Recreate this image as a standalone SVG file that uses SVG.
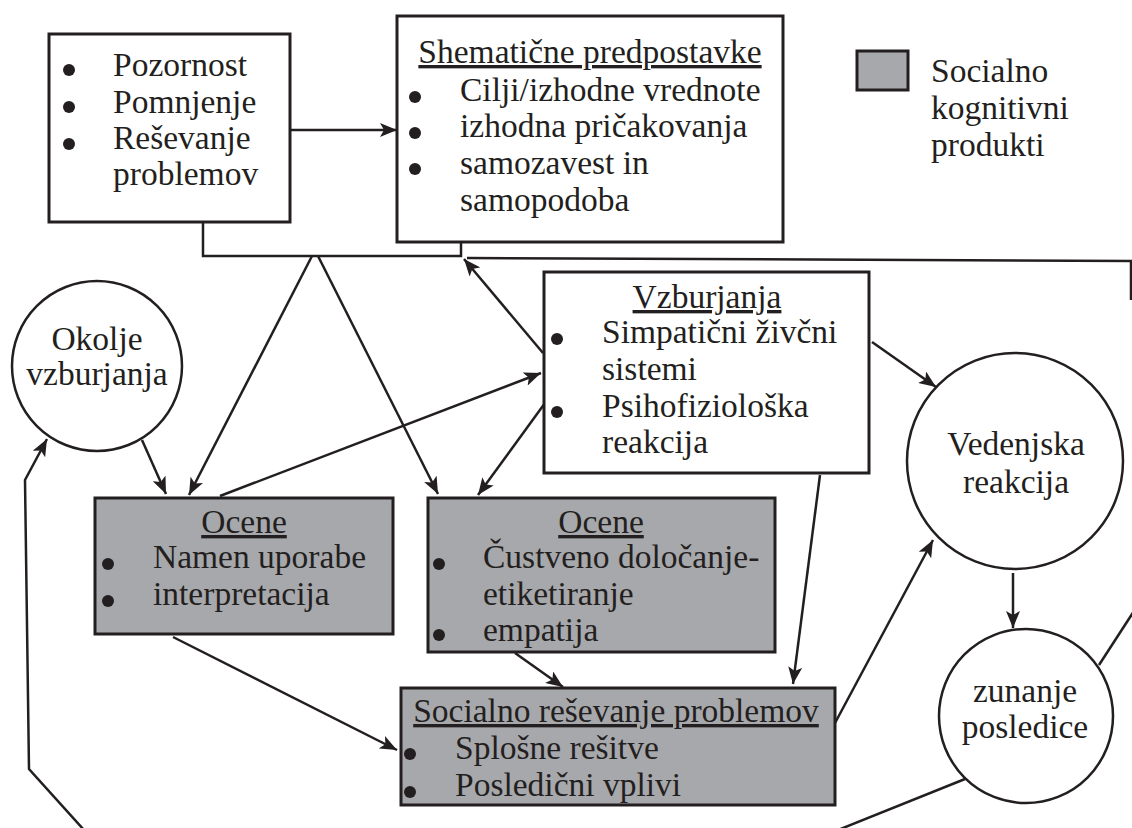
<svg xmlns="http://www.w3.org/2000/svg" width="1132" height="828" viewBox="0 0 1132 828">
<style>
.box{fill:#ffffff;stroke:#231f20;stroke-width:3}
.gbox{fill:#a7a8ab;stroke:#231f20;stroke-width:3}
.circ{fill:#ffffff;stroke:#231f20;stroke-width:2.5}
.t{font-family:"Liberation Serif","Times New Roman",serif;font-size:33.5px;fill:#231f20}
.c{text-anchor:middle}
.u{text-decoration:underline}
.b{fill:#231f20}
.con{fill:none;stroke:#231f20;stroke-width:2.5}
</style>
<defs>
<marker id="ah" markerUnits="userSpaceOnUse" markerWidth="18" markerHeight="14" refX="17" refY="7" orient="auto">
<path d="M0,0 L17,7 L0,14 L4,7 z" fill="#231f20"/>
</marker>
</defs>

<g id="connectors">
<line class="con" x1="290" y1="130" x2="397" y2="130" marker-end="url(#ah)"/>
<polyline class="con" points="203,222 203,256 461,256 461,242"/>
<line class="con" x1="312" y1="256" x2="189" y2="495" marker-end="url(#ah)"/>
<line class="con" x1="318" y1="256" x2="438" y2="494" marker-end="url(#ah)"/>
<line class="con" x1="543" y1="353" x2="464" y2="259" marker-end="url(#ah)"/>
<line class="con" x1="220" y1="496" x2="541" y2="373" marker-end="url(#ah)"/>
<line class="con" x1="545" y1="403" x2="478" y2="495" marker-end="url(#ah)"/>
<line class="con" x1="142" y1="440" x2="166" y2="494" marker-end="url(#ah)"/>
<line class="con" x1="872" y1="342" x2="936" y2="387" marker-end="url(#ah)"/>
<line class="con" x1="820" y1="475" x2="793" y2="684" marker-end="url(#ah)"/>
<line class="con" x1="173" y1="637" x2="397" y2="750" marker-end="url(#ah)"/>
<line class="con" x1="515" y1="653" x2="563" y2="687" marker-end="url(#ah)"/>
<line class="con" x1="835" y1="723" x2="933" y2="540" marker-end="url(#ah)"/>
<line class="con" x1="1013" y1="573" x2="1013" y2="628" marker-end="url(#ah)"/>
<line class="con" x1="1099" y1="665" x2="1134" y2="611"/>
<line class="con" x1="965" y1="779" x2="838" y2="830"/>
<polyline class="con" points="84,830 29,769 25,480 47,439" marker-end="url(#ah)"/>
<polyline class="con" points="467,258 1131,261 1131,300"/>
</g>

<g id="node-kognitivni">
<rect class="box" x="49" y="34" width="241" height="188"/>
<circle class="b" cx="69" cy="70" r="6"/>
<circle class="b" cx="69" cy="107" r="6"/>
<circle class="b" cx="69" cy="144" r="6"/>
<text class="t" x="113" y="76">Pozornost</text>
<text class="t" x="113" y="113">Pomnjenje</text>
<text class="t" x="113" y="149">Reševanje</text>
<text class="t" x="113" y="185">problemov</text>
</g>

<g id="node-shematicne">
<rect class="box" x="397" y="16" width="386" height="226"/>
<text class="t c u" x="590" y="63">Shematične predpostavke</text>
<circle class="b" cx="415" cy="97" r="6"/>
<circle class="b" cx="415" cy="133" r="6"/>
<circle class="b" cx="415" cy="169" r="6"/>
<text class="t" x="460" y="101">Cilji/izhodne vrednote</text>
<text class="t" x="460" y="137">izhodna pričakovanja</text>
<text class="t" x="460" y="174">samozavest in</text>
<text class="t" x="460" y="211">samopodoba</text>
</g>

<g id="legend">
<rect class="gbox" x="857" y="51" width="51" height="39" stroke-width="2"/>
<text class="t" x="931" y="82">Socialno</text>
<text class="t" x="931" y="119">kognitivni</text>
<text class="t" x="931" y="156">produkti</text>
</g>

<g id="node-vzburjanja">
<rect class="box" x="544" y="272" width="325" height="201"/>
<text class="t c u" x="707" y="308">Vzburjanja</text>
<circle class="b" cx="557" cy="339" r="6"/>
<circle class="b" cx="557" cy="412" r="6"/>
<text class="t" x="602" y="343">Simpatični živčni</text>
<text class="t" x="602" y="380">sistemi</text>
<text class="t" x="602" y="417">Psihofiziološka</text>
<text class="t" x="602" y="453">reakcija</text>
</g>

<g id="node-okolje">
<circle class="circ" cx="97" cy="366" r="85"/>
<text class="t c" x="97" y="350">Okolje</text>
<text class="t c" x="97" y="385">vzburjanja</text>
</g>

<g id="node-ocene1">
<rect class="gbox" x="95" y="498" width="298" height="136"/>
<text class="t c u" x="244" y="533">Ocene</text>
<circle class="b" cx="108" cy="564" r="6"/>
<circle class="b" cx="108" cy="601" r="6"/>
<text class="t" x="153" y="568">Namen uporabe</text>
<text class="t" x="153" y="605">interpretacija</text>
</g>

<g id="node-ocene2">
<rect class="gbox" x="428" y="498" width="347" height="154"/>
<text class="t c u" x="601" y="533">Ocene</text>
<circle class="b" cx="439" cy="564" r="6"/>
<circle class="b" cx="439" cy="635" r="6"/>
<text class="t" x="483" y="568">Čustveno določanje-</text>
<text class="t" x="483" y="605">etiketiranje</text>
<text class="t" x="483" y="641">empatija</text>
</g>

<g id="node-socialno">
<rect class="gbox" x="401" y="688" width="434" height="117"/>
<text class="t c u" x="616" y="722">Socialno reševanje problemov</text>
<circle class="b" cx="410" cy="754" r="6"/>
<circle class="b" cx="410" cy="792" r="6"/>
<text class="t" x="455" y="759">Splošne rešitve</text>
<text class="t" x="455" y="796">Posledični vplivi</text>
</g>

<g id="node-vedenjska">
<circle class="circ" cx="1015" cy="461" r="108"/>
<text class="t c" x="1016" y="455">Vedenjska</text>
<text class="t c" x="1016" y="493">reakcija</text>
</g>

<g id="node-zunanje">
<circle class="circ" cx="1026" cy="716" r="87"/>
<text class="t c" x="1025" y="702">zunanje</text>
<text class="t c" x="1025" y="738">posledice</text>
</g>
</svg>
